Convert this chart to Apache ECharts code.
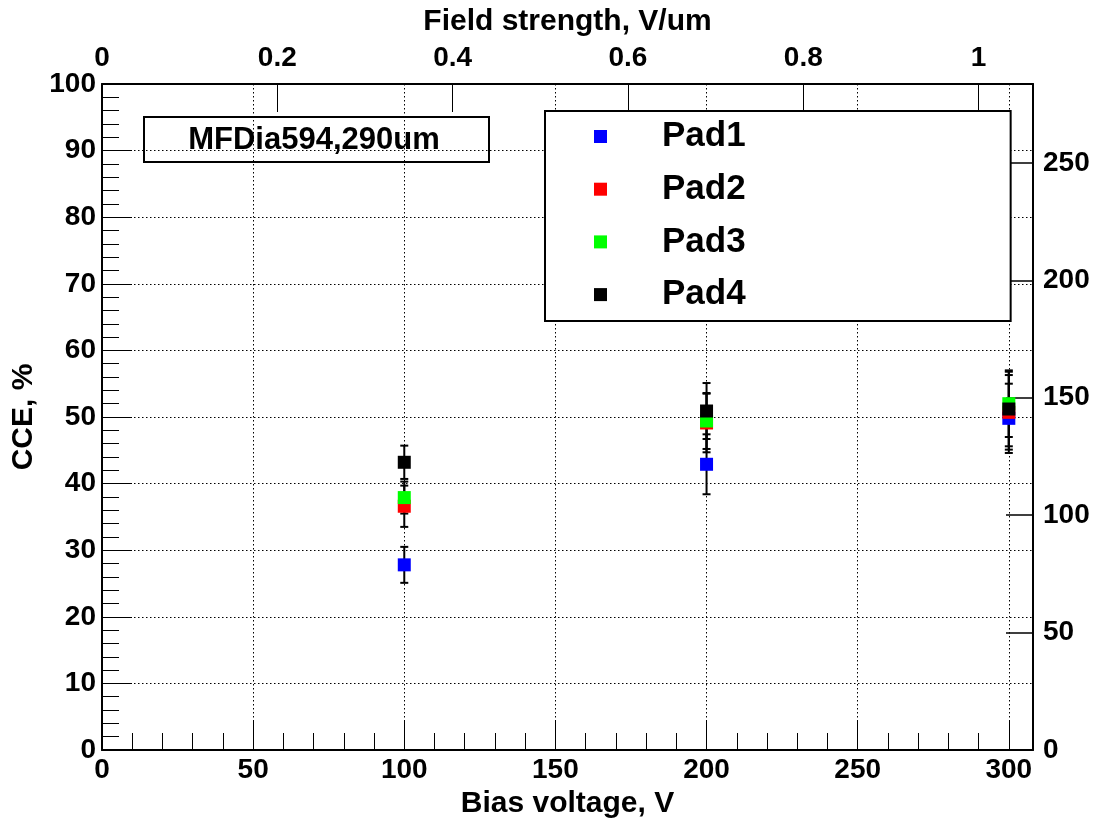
<!DOCTYPE html>
<html>
<head>
<meta charset="utf-8">
<script src="https://cdn.jsdelivr.net/npm/echarts@6/dist/echarts.min.js"></script>
<style>
  html, body { margin: 0; padding: 0; background: #fff; }
  #chart { width: 1097px; height: 820px; }
</style>
</head>
<body>
<div id="chart"></div>
<script>
// bias voltage points (V)
const voltages = [100, 200, 300]
const padNames = ['Pad1', 'Pad2', 'Pad3', 'Pad4']
const padColors = ['#0000ff', '#ff0000', '#00ff00', '#000000']
// CCE values (%) and errors, one array per pad
const pad1 = [27.8, 42.9, 49.8]
const pad1Err = [2.7, 4.5, 5.2]
const pad2 = [36.6, 49.1, 50.7]
const pad2Err = [3.1, 4.4, 5.6]
const pad3 = [37.9, 49.4, 52.0]
const pad3Err = [2.4, 4.2, 5.0]
const pad4 = [43.2, 50.9, 51.2]
const pad4Err = [2.5, 4.2, 5.6]
// axis ranges
const xMax = 308
const thickness = 290 // um
const rightMax = 283.6

const values = [pad1, pad2, pad3, pad4]
const errors = [pad1Err, pad2Err, pad3Err, pad4Err]

const font = "'Liberation Sans', Arial, sans-serif"
const lbl = { color: '#000', fontFamily: font, fontWeight: 'bold', fontSize: 28 }
const nameStyle = { color: '#000', fontFamily: font, fontWeight: 'bold', fontSize: 30 }
const frame = { show: true, onZero: false, lineStyle: { color: '#000', width: 2 } }
const dotted = { show: true, lineStyle: { color: '#000', width: 1, type: [1.5, 2.5] } }

const chart = echarts.init(document.getElementById('chart'))

const errSeries = values.map((vals, i) => ({
  name: 'err' + i,
  type: 'custom',
  z: 2,
  data: voltages.map((v, j) => [v, vals[j], errors[i][j]]),
  renderItem(params, api) {
    const x = api.value(0), y = api.value(1), e = api.value(2)
    const top = api.coord([x, y + e])
    const bot = api.coord([x, y - e])
    const style = { stroke: '#000', lineWidth: 2 }
    return {
      type: 'group',
      children: [
        { type: 'line', shape: { x1: top[0], y1: top[1], x2: bot[0], y2: bot[1] }, style },
        { type: 'line', shape: { x1: top[0] - 4, y1: top[1], x2: top[0] + 4, y2: top[1] }, style },
        { type: 'line', shape: { x1: bot[0] - 4, y1: bot[1], x2: bot[0] + 4, y2: bot[1] }, style }
      ]
    }
  }
}))

const markSeries = values.map((vals, i) => ({
  name: padNames[i],
  type: 'scatter',
  symbol: 'rect',
  symbolSize: 13,
  z: 3,
  itemStyle: { color: padColors[i], opacity: 1 },
  data: voltages.map((v, j) => [v, vals[j]])
}))

chart.setOption({
  animation: false,
  backgroundColor: '#fff',
  grid: { left: 102, right: 64, top: 84, bottom: 70, outerBoundsMode: 'none', containLabel: false },
  xAxis: [
    {
      type: 'value', position: 'bottom', min: 0, max: xMax, interval: 50,
      name: 'Bias voltage, V', nameLocation: 'middle', nameGap: 38, nameTextStyle: nameStyle,
      axisLine: frame,
      axisTick: { inside: true, length: 30, lineStyle: { color: '#000' } },
      minorTick: { show: true, splitNumber: 5, length: 17, lineStyle: { color: '#000' } },
      axisLabel: { ...lbl, margin: 6, showMaxLabel: false },
      splitLine: dotted
    },
    {
      type: 'value', position: 'top', min: 0, max: xMax / thickness, interval: 0.2,
      name: 'Field strength, V/um', nameLocation: 'middle', nameGap: 47, nameTextStyle: nameStyle,
      axisLine: frame,
      axisTick: { inside: true, length: 28, lineStyle: { color: '#000' } },
      axisLabel: { ...lbl, margin: 12, showMaxLabel: false,
        formatter: v => String(Math.round(v * 10) / 10) },
      splitLine: { show: false }
    }
  ],
  yAxis: [
    {
      type: 'value', position: 'left', min: 0, max: 100, interval: 10,
      name: 'CCE, %', nameLocation: 'middle', nameGap: 52, nameTextStyle: nameStyle,
      axisLine: frame,
      axisTick: { inside: true, length: 30, lineStyle: { color: '#000' } },
      minorTick: { show: true, splitNumber: 5, length: 17, lineStyle: { color: '#000' } },
      axisLabel: { ...lbl, margin: 6 },
      splitLine: dotted
    },
    {
      type: 'value', position: 'right', min: 0, max: rightMax, interval: 50,
      axisLine: frame,
      axisTick: { inside: true, length: 27, lineStyle: { color: '#000', width: 1.5 } },
      axisLabel: { ...lbl, margin: 10, showMaxLabel: false },
      splitLine: { show: false }
    }
  ],
  legend: {
    data: padNames,
    orient: 'vertical',
    left: 545, top: 111,
    padding: [8, 265, 9, 49],
    itemGap: 17.7,
    itemWidth: 13, itemHeight: 13,
    icon: 'rect',
    backgroundColor: '#fff',
    borderColor: '#000', borderWidth: 2, borderRadius: 0,
    textStyle: { color: '#000', fontFamily: font, fontWeight: 'bold', fontSize: 35,
      lineHeight: 35, padding: [0, 0, 0, 50] }
  },
  graphic: [
    {
      type: 'group', left: 143, top: 116, z: 10,
      children: [
        { type: 'rect', shape: { x: 0, y: 0, width: 345, height: 45 },
          style: { fill: '#fff', stroke: '#000', lineWidth: 2 } },
        { type: 'text', x: 170, y: 23,
          style: { text: 'MFDia594,290um', fill: '#000', font: 'bold 31px ' + font,
            align: 'center', verticalAlign: 'middle' } }
      ]
    }
  ],
  series: [...errSeries, ...markSeries]
})
</script>
</body>
</html>
